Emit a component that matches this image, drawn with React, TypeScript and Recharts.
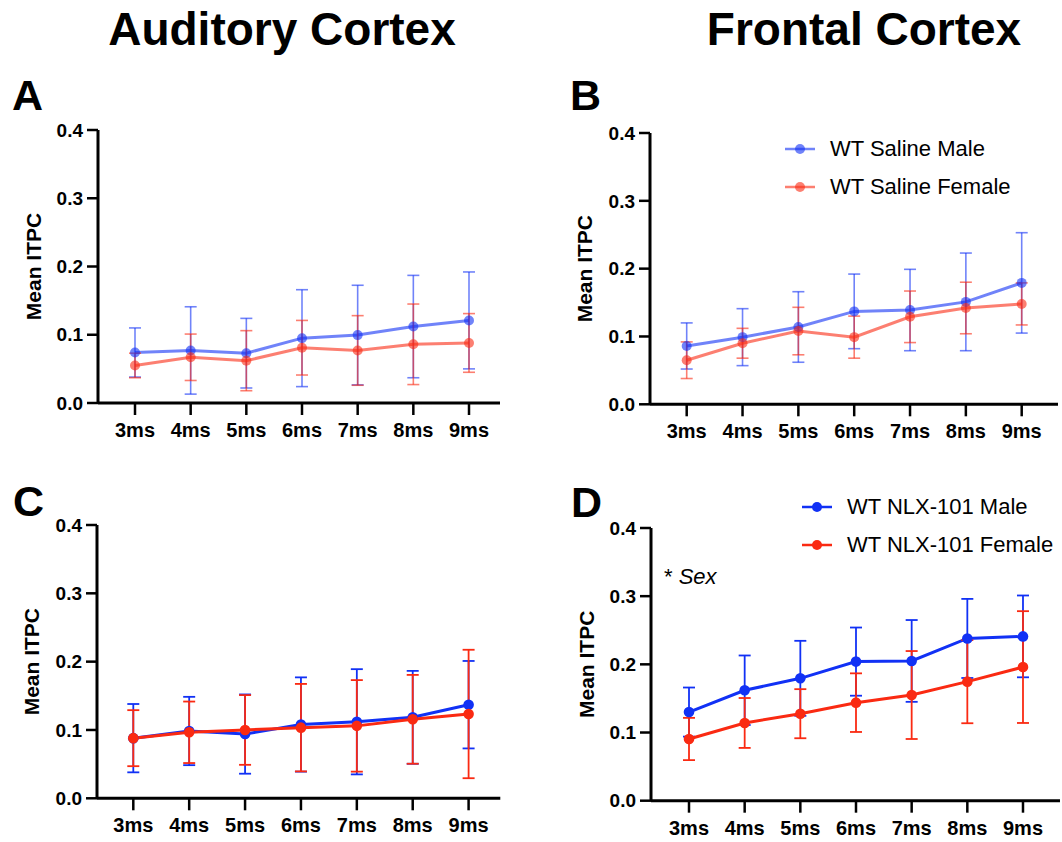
import { LineChart, Line, XAxis, YAxis, ErrorBar, Legend } from "recharts";

const FONT = '"Liberation Sans", Arial, Helvetica, sans-serif';

const categories = ["3ms", "4ms", "5ms", "6ms", "7ms", "8ms", "9ms"];
const yTicks = [0, 0.1, 0.2, 0.3, 0.4];

// A: auditory cortex, saline
const aMale = [0.074, 0.077, 0.073, 0.095, 0.0995, 0.112, 0.121];
const aMaleErr = [0.036, 0.064, 0.051, 0.071, 0.073, 0.075, 0.071];
const aFemale = [0.055, 0.067, 0.062, 0.081, 0.077, 0.086, 0.088];
const aFemaleErr = [0.018, 0.034, 0.044, 0.04, 0.051, 0.059, 0.043];

// B: frontal cortex, saline
const bMale = [0.086, 0.099, 0.114, 0.137, 0.139, 0.151, 0.179];
const bMaleErr = [0.034, 0.042, 0.052, 0.055, 0.06, 0.072, 0.074];
const bFemale = [0.065, 0.09, 0.108, 0.099, 0.129, 0.142, 0.148];
const bFemaleErr = [0.027, 0.022, 0.035, 0.031, 0.038, 0.038, 0.031];

// C: auditory cortex, NLX-101
const cMale = [0.088, 0.0985, 0.094, 0.108, 0.112, 0.1185, 0.137];
const cMaleErr = [0.05, 0.05, 0.058, 0.069, 0.077, 0.068, 0.064];
const cFemale = [0.088, 0.0966, 0.1, 0.1034, 0.106, 0.1156, 0.1234];
const cFemaleErr = [0.041, 0.045, 0.051, 0.064, 0.067, 0.065, 0.094];

// D: frontal cortex, NLX-101
const dMale = [0.13, 0.162, 0.1795, 0.204, 0.205, 0.238, 0.241];
const dMaleErr = [0.036, 0.051, 0.055, 0.05, 0.06, 0.058, 0.06];
const dFemale = [0.0905, 0.114, 0.1276, 0.1438, 0.155, 0.1746, 0.196];
const dFemaleErr = [0.031, 0.0366, 0.036, 0.043, 0.0645, 0.061, 0.082];

const BLUE = "#1131F5";
const RED = "#FA2A12";

function LegendRows({ payload, opacity, order }: { payload?: any[]; opacity: number; order: string[] }) {
  if (!payload) return null;
  const rows = [...payload].sort((a, b) => order.indexOf(a.value) - order.indexOf(b.value));
  return (
    <div style={{ fontFamily: FONT }}>
      {rows.map((p) => (
        <div key={p.value} style={{ height: 38, display: "flex", alignItems: "center" }}>
          <svg width={45} height={38} style={{ flex: "none" }}>
            <line x1={0} x2={30} y1={19} y2={19} stroke={p.color} strokeWidth={2.5} strokeOpacity={opacity} />
            <circle cx={15} cy={19} r={5} fill={p.color} fillOpacity={opacity} />
          </svg>
          <span style={{ fontSize: 22, color: "#000", whiteSpace: "nowrap" }}>{p.value}</span>
        </div>
      ))}
    </div>
  );
}

function YLabel(props: any) {
  const vb = props.viewBox || {};
  const cx = vb.x + vb.width - 65;
  const cy = vb.y + vb.height / 2;
  return (
    <text
      x={cx}
      y={cy}
      transform={`rotate(-90, ${cx}, ${cy})`}
      textAnchor="middle"
      dominantBaseline="central"
      fontSize={21}
      fontWeight={700}
      fontFamily={FONT}
      fill="#000"
    >
      Mean ITPC
    </text>
  );
}

interface PanelProps {
  male: number[];
  maleErr: number[];
  female: number[];
  femaleErr: number[];
  maleName: string;
  femaleName: string;
  opacity: number;
  dotR: number;
  axisX: number;
  topY: number;
  bottomY: number;
  rightX: number;
  padL: number;
  padR: number;
  legendPos?: { left: number; top: number };
}

function Panel(p: PanelProps) {
  const data = categories.map((c, i) => ({
    cat: c,
    male: p.male[i],
    maleErr: p.maleErr[i],
    female: p.female[i],
    femaleErr: p.femaleErr[i],
  }));
  const left = p.axisX - 98;
  const top = p.topY - 60;
  const width = p.rightX - left + 4;
  const plotH = p.bottomY - p.topY;
  const height = 60 + plotH + 60;
  const errW = p.opacity < 1 ? 1.6 : 1.8;

  return (
    <div style={{ position: "absolute", left, top }}>
      <LineChart width={width} height={height} data={data} margin={{ top: 60, right: 4, left: 0, bottom: 0 }}>
        <XAxis
          dataKey="cat"
          interval={0}
          height={60}
          padding={{ left: p.padL, right: p.padR }}
          axisLine={{ stroke: "#000", strokeWidth: 3 }}
          tickLine={{ stroke: "#000", strokeWidth: 2.5 }}
          tickSize={12}
          tickMargin={8}
          tick={{ fill: "#000", fontSize: 20, fontWeight: 700, fontFamily: FONT }}
        />
        <YAxis
          width={98}
          domain={[0, 0.4]}
          ticks={yTicks}
          allowDataOverflow
          tickFormatter={(v: number) => v.toFixed(1)}
          axisLine={{ stroke: "#000", strokeWidth: 3 }}
          tickLine={{ stroke: "#000", strokeWidth: 2.5 }}
          tickSize={11}
          tickMargin={4}
          tick={{ fill: "#000", fontSize: 19, fontWeight: 700, fontFamily: FONT }}
          label={{ value: "Mean ITPC", content: YLabel }}
        />
        {p.legendPos && (
          <Legend
            layout="vertical"
            align="center"
            verticalAlign="middle"
            content={(props: any) => (
              <LegendRows payload={props.payload} opacity={p.opacity} order={[p.maleName, p.femaleName]} />
            )}
            wrapperStyle={{ left: p.legendPos.left, top: p.legendPos.top, width: 320 }}
          />
        )}
        <Line
          type="linear"
          dataKey="male"
          name={p.maleName}
          stroke={BLUE}
          strokeOpacity={p.opacity}
          strokeWidth={3}
          dot={{ r: p.dotR, fill: BLUE, fillOpacity: p.opacity, stroke: "none" }}
          activeDot={false}
          isAnimationActive={false}
        >
          <ErrorBar dataKey="maleErr" width={6} stroke={BLUE} strokeOpacity={p.opacity} strokeWidth={errW} direction="y" />
        </Line>
        <Line
          type="linear"
          dataKey="female"
          name={p.femaleName}
          stroke={RED}
          strokeOpacity={p.opacity}
          strokeWidth={3}
          dot={{ r: p.dotR, fill: RED, fillOpacity: p.opacity, stroke: "none" }}
          activeDot={false}
          isAnimationActive={false}
        >
          <ErrorBar dataKey="femaleErr" width={6} stroke={RED} strokeOpacity={p.opacity} strokeWidth={errW} direction="y" />
        </Line>
      </LineChart>
    </div>
  );
}

export default function App() {
  return (
    <div style={{ position: "absolute", left: 0, top: 0, width: 1062, height: 842, background: "#fff", fontFamily: FONT }}>
      <svg width={1062} height={842} style={{ position: "absolute", left: 0, top: 0 }}>
        <g fontFamily={FONT} fontWeight={700} fill="#000">
          <text x={282} y={45} fontSize={46} textAnchor="middle">Auditory Cortex</text>
          <text x={864} y={45} fontSize={46} textAnchor="middle">Frontal Cortex</text>
          <text x={12} y={110} fontSize={43}>A</text>
          <text x={570} y={110} fontSize={43}>B</text>
          <text x={13} y={516} fontSize={43}>C</text>
          <text x={571} y={517} fontSize={43}>D</text>
        </g>
        <text x={664} y={584} fontSize={22} fontFamily={FONT} fill="#000">
          <tspan>* </tspan>
          <tspan fontStyle="italic">Sex</tspan>
        </text>
      </svg>

      <Panel
        male={aMale} maleErr={aMaleErr} female={aFemale} femaleErr={aFemaleErr}
        maleName="WT Saline Male" femaleName="WT Saline Female"
        opacity={0.6} dotR={5}
        axisX={98} topY={130} bottomY={403} rightX={500} padL={37} padR={31}
      />
      <Panel
        male={bMale} maleErr={bMaleErr} female={bFemale} femaleErr={bFemaleErr}
        maleName="WT Saline Male" femaleName="WT Saline Female"
        opacity={0.6} dotR={5}
        axisX={650} topY={132.7} bottomY={404} rightX={1058} padL={36.7} padR={36.3}
        legendPos={{ left: 233, top: 57.6 }}
      />
      <Panel
        male={cMale} maleErr={cMaleErr} female={cFemale} femaleErr={cFemaleErr}
        maleName="WT NLX-101 Male" femaleName="WT NLX-101 Female"
        opacity={1} dotR={5.3}
        axisX={96.7} topY={525} bottomY={798.3} rightX={500} padL={36.3} padR={31.7}
      />
      <Panel
        male={dMale} maleErr={dMaleErr} female={dFemale} femaleErr={dFemaleErr}
        maleName="WT NLX-101 Male" femaleName="WT NLX-101 Female"
        opacity={1} dotR={5.3}
        axisX={651} topY={528.3} bottomY={801} rightX={1060} padL={38} padR={37}
        legendPos={{ left: 249, top: 20 }}
      />
    </div>
  );
}
